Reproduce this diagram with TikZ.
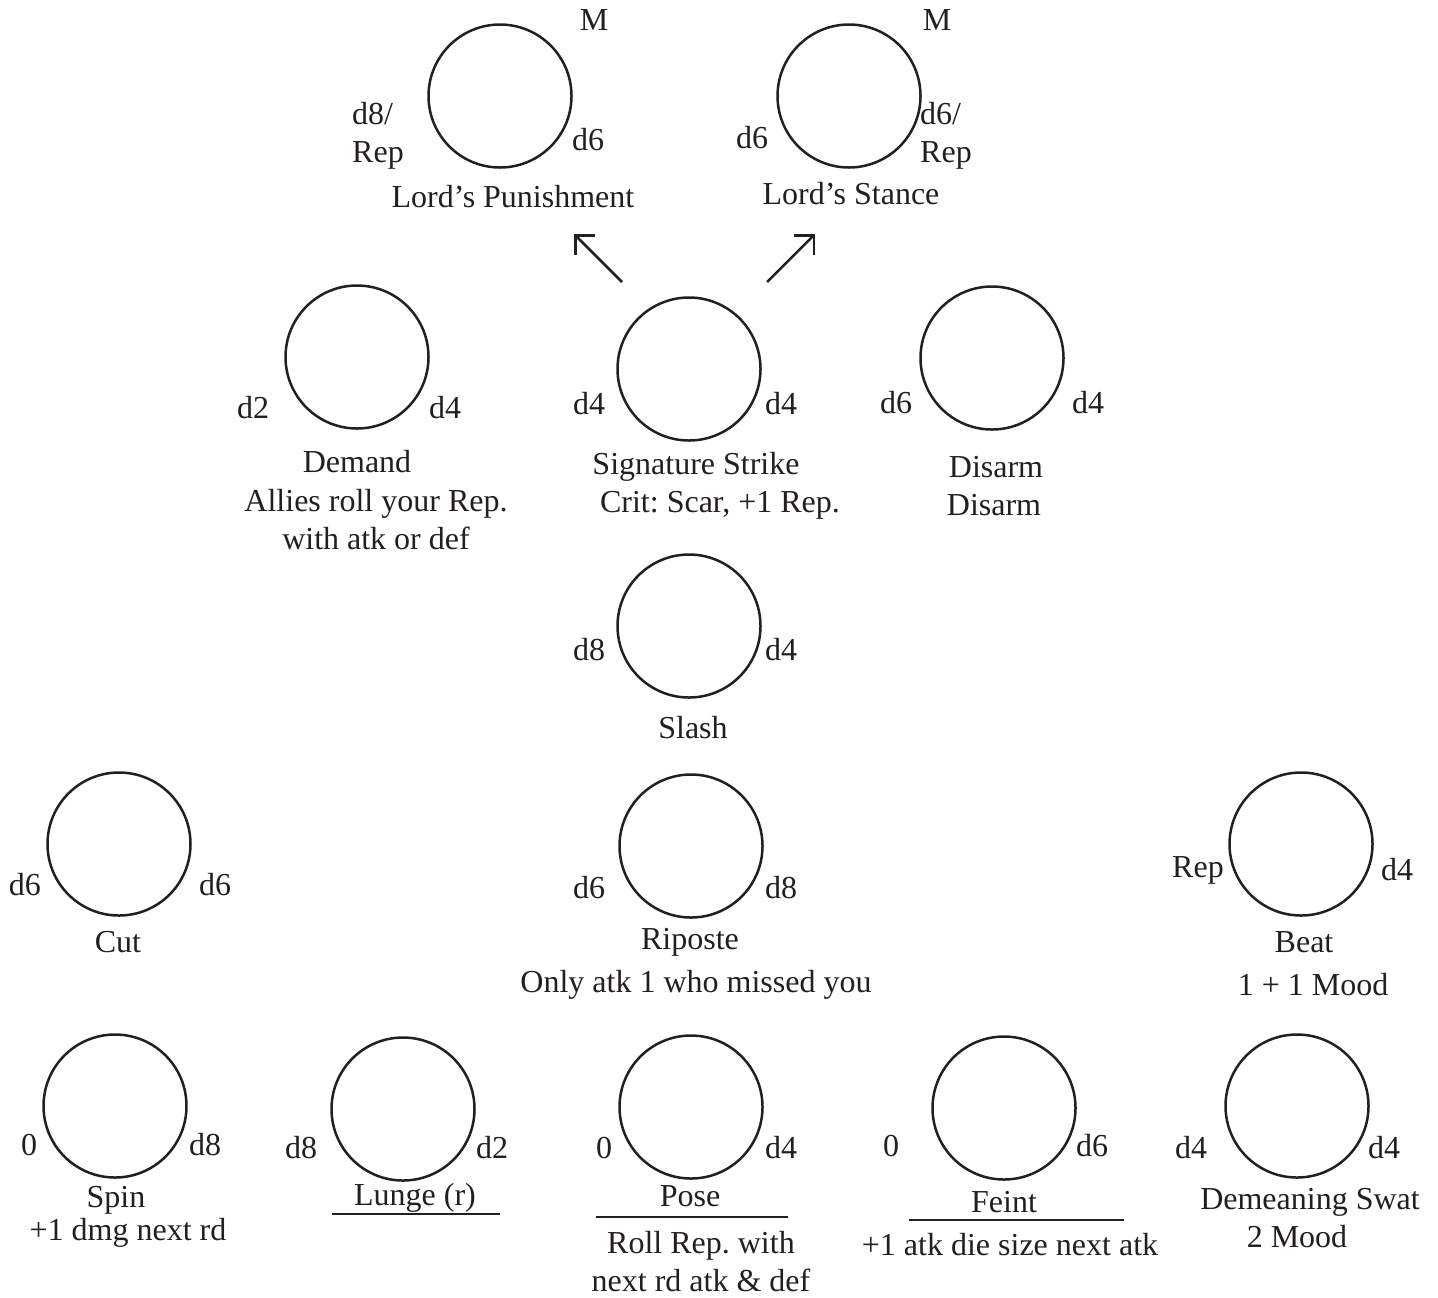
\documentclass[tikz,border=0pt]{standalone}
\usepackage{fontspec}
\setmainfont{Liberation Serif}
\usetikzlibrary{arrows.meta}
\definecolor{ink}{HTML}{231F20}
\tikzset{skill/.style={circle, draw=ink, line width=1.25pt, minimum size=71.5pt, inner sep=0pt},
lbl/.style={text=ink, inner sep=0pt, font=\fontsize{16pt}{19pt}\selectfont\frenchspacing, align=center},
rule/.style={draw=ink, line width=1.25pt},
%open right-angle tip for the two upgrades
branch/.style={draw=ink, line width=1.25pt, -{Straight Barb[angle=90:10pt]}}}

\begin{document}
\begin{tikzpicture}[x=0.5pt,y=-0.5pt]
\useasboundingbox (0,0) rectangle (1438,1297);

\foreach \n/\x/\y in {lp/500/96, ls/849/96, dem/357/357, sig/689/369, dis/992/358,
  sla/689/626, cut/119/844, rip/691/846, beat/1301/844,
  spin/115/1106, lun/403/1109, pose/691/1107, feint/1004/1108, swat/1297/1106}
    \node[skill] (\n) at (\x,\y) {};

% upgrades
\coordinate (sigL) at (622,282);
\coordinate (sigR) at (767,282);
\coordinate (lpTip) at (574,234);
\coordinate (lsTip) at (815,234);
\draw[branch] (sigL) -- (lpTip);
\draw[branch] (sigR) -- (lsTip);

% Lord's Punishment
\node[lbl] (lpM) at (594,20) {M};
\node[lbl, align=left] (lpL) at (378,136) {d8/\\Rep};
\node[lbl] (lpR) at (588,140) {d6};
\node[lbl] (lpT) at (513,197) {Lord’s Punishment};

% Lord's Stance
\node[lbl] (lsM) at (937,20) {M};
\node[lbl] (lsL) at (752,138) {d6};
\node[lbl, align=left] (lsR) at (946,136) {d6/\\Rep};
\node[lbl] (lsT) at (851,194) {Lord’s Stance};

% Demand
\node[lbl] (demL) at (253,408) {d2};
\node[lbl] (demR) at (445,408) {d4};
\node[lbl] (demT) at (357,462) {Demand};
\node[lbl] (demD) at (376,520) {Allies roll your Rep.\\with atk or def};

% Signature Strike
\node[lbl] (sigLd) at (589,404) {d4};
\node[lbl] (sigRd) at (781,404) {d4};
\node[lbl] (sigT) at (696,467) {Signature Strike};
\node[lbl] (sigD) at (720,505) {Crit: Scar, +1 Rep.};

% Disarm
\node[lbl] (disL) at (896,403) {d6};
\node[lbl] (disR) at (1088,403) {d4};
\node[lbl] (disT) at (996,467) {Disarm};
\node[lbl] (disD) at (994,505) {Disarm};

% Slash
\node[lbl] (slaL) at (589,650) {d8};
\node[lbl] (slaR) at (781,650) {d4};
\node[lbl] (slaT) at (693,728) {Slash};

% Cut
\node[lbl] (cutL) at (25,885) {d6};
\node[lbl] (cutR) at (215,885) {d6};
\node[lbl] (cutT) at (118,942) {Cut};

% Riposte
\node[lbl] (ripL) at (589,888) {d6};
\node[lbl] (ripR) at (781,888) {d8};
\node[lbl] (ripT) at (690,942) {Riposte};
\node[lbl] (ripD) at (696,985) {Only atk 1 who missed you};

% Beat
\node[lbl] (beatL) at (1198,870) {Rep};
\node[lbl] (beatR) at (1397,870) {d4};
\node[lbl] (beatT) at (1304,942) {Beat};
\node[lbl] (beatD) at (1313,985) {1 + 1 Mood};

% Spin
\node[lbl] (spinL) at (29,1145) {0};
\node[lbl] (spinR) at (205,1145) {d8};
\node[lbl] (spinT) at (116,1200) {Spin};
\node[lbl] (spinD) at (128,1233) {+1 dmg next rd};

% Lunge
\node[lbl] (lunL) at (301,1148) {d8};
\node[lbl] (lunR) at (492,1148) {d2};
\node[lbl] (lunT) at (415,1198) {Lunge (r)};
\draw[rule] (332,1214) -- (500,1214);

% Pose
\node[lbl] (poseL) at (604,1148) {0};
\node[lbl] (poseR) at (781,1148) {d4};
\node[lbl] (poseT) at (690,1196) {Pose};
\draw[rule] (596,1217) -- (788,1217);
\node[lbl] (poseD) at (701,1262) {Roll Rep. with\\next rd atk \& def};

% Feint
\node[lbl] (feintL) at (891,1146) {0};
\node[lbl] (feintR) at (1092,1146) {d6};
\node[lbl] (feintT) at (1004,1202) {Feint};
\draw[rule] (909,1220) -- (1124,1220);
\node[lbl] (feintD) at (1010,1245) {+1 atk die size next atk};

% Demeaning Swat
\node[lbl] (swatL) at (1191,1148) {d4};
\node[lbl] (swatR) at (1384,1148) {d4};
\node[lbl] (swatT) at (1310,1202) {Demeaning Swat};
\node[lbl] (swatD) at (1297,1237) {2 Mood};

\end{tikzpicture}
\end{document}
